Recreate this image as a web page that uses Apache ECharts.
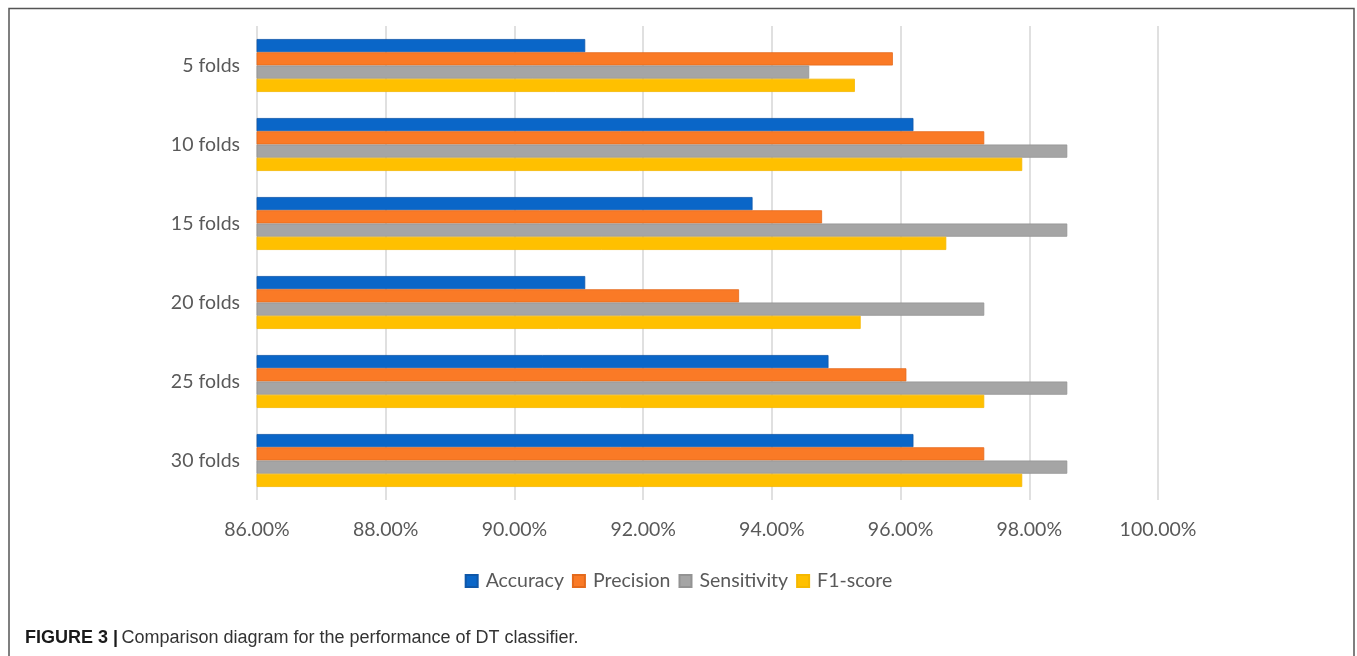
<!DOCTYPE html>
<html>
<head>
<meta charset="utf-8">
<style>
  html, body { margin: 0; padding: 0; background: #fff; }
  #chart { width: 1357px; height: 656px; }
</style>
<script src="https://cdn.jsdelivr.net/npm/echarts@6/dist/echarts.min.js"></script>
</head>
<body>
<div id="chart"></div>
<script>
// Fold settings (top to bottom)
const categories = ['5 folds', '10 folds', '15 folds', '20 folds', '25 folds', '30 folds'];

// Metric values in percent
const accuracy    = [91.10, 96.20, 93.70, 91.10, 94.88, 96.20];
const precision   = [95.88, 97.30, 94.78, 93.49, 96.09, 97.30];
const sensitivity = [94.58, 98.59, 98.59, 97.30, 98.59, 98.59];
const f1score     = [95.29, 97.89, 96.71, 95.38, 97.30, 97.89];

const seriesNames = ['Accuracy', 'Precision', 'Sensitivity', 'F1-score'];
const seriesColors = ['#0A66C8', '#FA7A26', '#A5A5A5', '#FFC000'];
const seriesBorders = ['#0F57A8', '#E46A1C', '#939393', '#F5B800'];

const axisFont = 'Lato, "Open Sans", sans-serif';

const chart = echarts.init(document.getElementById('chart'));

const seriesData = [accuracy, precision, sensitivity, f1score];

chart.setOption({
  animation: false,
  backgroundColor: '#ffffff',
  textStyle: { fontFamily: axisFont },
  grid: { left: 257, right: 199, top: 26, bottom: 156 },
  legend: {
    data: seriesNames,
    left: 'center',
    top: 566,
    icon: 'rect',
    itemWidth: 12,
    itemHeight: 12,
    itemGap: 8,
    textStyle: { fontFamily: axisFont, fontSize: 19.5, color: '#595959', padding: [0, 0, 0, 3] }
  },
  xAxis: {
    type: 'value',
    min: 86,
    max: 100,
    interval: 2,
    axisLine: { show: false },
    axisTick: { show: false },
    splitLine: { show: true, lineStyle: { color: '#d6d6d6', width: 1.5 } },
    axisLabel: {
      margin: 20,
      fontSize: 19.5,
      color: '#595959',
      fontFamily: axisFont,
      formatter: v => v.toFixed(2) + '%'
    }
  },
  yAxis: {
    type: 'category',
    data: categories,
    inverse: true,
    axisLine: { show: false },
    axisTick: { show: false },
    axisLabel: { margin: 17, fontSize: 19.5, color: '#595959', fontFamily: axisFont }
  },
  series: seriesNames.map((name, i) => ({
    name: name,
    type: 'bar',
    data: seriesData[i],
    barGap: '0%',
    barCategoryGap: '33%',
    itemStyle: { color: seriesColors[i], borderColor: seriesBorders[i], borderWidth: 0.8 }
  })),
  graphic: [
    {
      type: 'rect',
      shape: { x: 9, y: 8.5, width: 1345, height: 700 },
      style: { fill: 'none', stroke: '#555555', lineWidth: 1.5 },
      silent: true
    },
    {
      type: 'text',
      left: 25,
      top: 629,
      style: {
        text: '{b|FIGURE 3 |} {r|Comparison diagram for the performance of DT classifier.}',
        rich: {
          b: { fontFamily: '"Liberation Sans", Arial, sans-serif', fontWeight: 'bold', fontSize: 18, fill: '#1a1a1a' },
          r: { fontFamily: '"Liberation Sans", Arial, sans-serif', fontSize: 18, fill: '#333333' }
        }
      }
    }
  ]
});
</script>
</body>
</html>
